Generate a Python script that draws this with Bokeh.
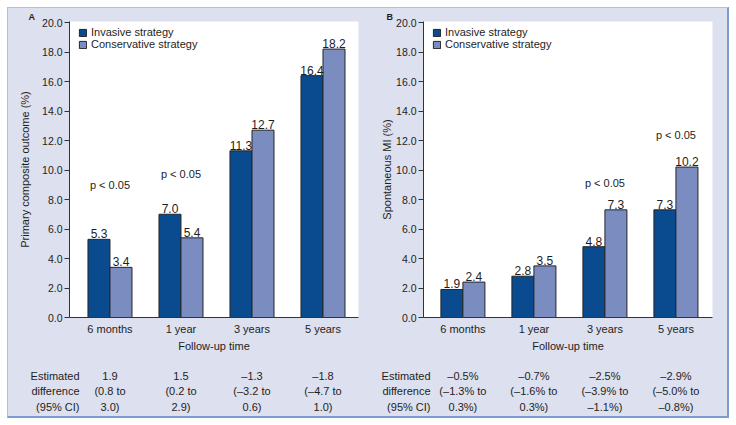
from bokeh.plotting import figure
from bokeh.layouts import row, column
from bokeh.models import (Range1d, FixedTicker, Label, LabelSet, Legend, LegendItem,
                          ColumnDataSource, PrintfTickFormatter)
from bokeh.transform import dodge
from bokeh.core.properties import value
from bokeh.embed import file_html
from bokeh.resources import INLINE

# ---------------- data ----------------
categories = ["6 months", "1 year", "3 years", "5 years"]
y_ticks = [0, 2, 4, 6, 8, 10, 12, 14, 16, 18, 20]

a_invasive = [5.3, 7.0, 11.3, 16.4]
a_conservative = [3.4, 5.4, 12.7, 18.2]
b_invasive = [1.9, 2.8, 4.8, 7.3]
b_conservative = [2.4, 3.5, 7.3, 10.2]

a_diff = ["1.9\n(0.8 to\n3.0)", "1.5\n(0.2 to\n2.9)",
          "\u20131.3\n(\u20133.2 to\n0.6)", "\u20131.8\n(\u20134.7 to\n1.0)"]
b_diff = ["\u20130.5%\n(\u20131.3% to\n0.3%)", "\u20130.7%\n(\u20131.6% to\n0.3%)",
          "\u20132.5%\n(\u20133.9% to\n\u20131.1%)", "\u20132.9%\n(\u20135.0% to\n\u20130.8%)"]
diff_header = "Estimated\ndifference\n(95% CI)"

a_p_labels = ["p < 0.05", "p < 0.05"]
b_p_labels = ["p < 0.05", "p < 0.05"]

# ---------------- style ----------------
FONT = "Liberation Sans"
FS = "11px"
BG = "#dde0ee"
INV = "#0a4a8e"
CON = "#7b8cc1"
TXT = "#1e1e1e"
AX = "#333333"
CH_H = 350      # chart figure height
TB_H = 58       # table figure height
TOP, FRAME_H = 13, 296


def make_panel(letter, ylabel, inv, con, p_cats, p_ys, p_texts, diffs,
               width, left, right, xr, header_gap, ylab_standoff):
    src = ColumnDataSource(dict(
        x=list(range(len(categories))), inv=inv, con=con,
        inv_lbl=[f"{v:.1f}" for v in inv], con_lbl=[f"{v:.1f}" for v in con]))
    p = figure(width=width, height=CH_H, x_range=Range1d(*xr), y_range=Range1d(0, 20.07),
               output_backend="svg", toolbar_location=None,
               min_border_left=left, min_border_right=right,
               min_border_top=TOP, min_border_bottom=CH_H - TOP - FRAME_H,
               background_fill_color="white", border_fill_color=BG,
               outline_line_color=None)
    p.grid.visible = False

    # panel letter as a left-aligned title shifted into the margin
    p.title.text = letter
    p.title.align = "left"
    p.title.vertical_align = "bottom"
    p.title.offset = 20 - left
    p.title.standoff = 0
    p.title.text_font = FONT
    p.title.text_font_size = "9px"
    p.title.text_font_style = "bold"
    p.title.text_color = TXT

    r1 = p.vbar(x=dodge("x", -0.155), top="inv", width=0.31, source=src,
                fill_color=INV, line_color="#262626", line_width=1)
    r2 = p.vbar(x=dodge("x", 0.155), top="con", width=0.31, source=src,
                fill_color=CON, line_color="#262626", line_width=1)

    for col, ycol, off in (("inv_lbl", "inv", -0.155), ("con_lbl", "con", 0.155)):
        p.add_layout(LabelSet(x=dodge("x", off), y=ycol, text=col, source=src,
                              text_align="center", text_baseline="bottom", y_offset=1,
                              text_font=value(FONT), text_font_size="12px",
                              text_color=TXT))

    # axes
    p.yaxis.ticker = FixedTicker(ticks=y_ticks)
    p.yaxis.formatter = PrintfTickFormatter(format="%.1f")
    p.yaxis.minor_tick_line_color = None
    p.yaxis.major_tick_in = 0
    p.yaxis.major_tick_out = 5
    p.yaxis.axis_label = ylabel
    p.yaxis.axis_label_standoff = ylab_standoff
    p.yaxis.major_label_standoff = 2

    p.xaxis.ticker = FixedTicker(ticks=list(range(len(categories))))
    p.xaxis.major_label_overrides = {i: c for i, c in enumerate(categories)}
    p.xaxis.minor_tick_line_color = None
    p.xaxis.major_tick_in = 0
    p.xaxis.major_tick_out = 0
    p.xaxis.major_label_standoff = 5
    p.xaxis.axis_label = "Follow-up time"
    p.xaxis.axis_label_standoff = 2

    for ax in (p.xaxis, p.yaxis):
        ax.axis_line_color = AX
        ax.major_label_text_font = FONT
        ax.major_label_text_color = TXT
        ax.axis_label_text_font = FONT
        ax.axis_label_text_font_style = "normal"
        ax.axis_label_text_font_size = FS
        ax.axis_label_text_color = TXT
    p.yaxis.major_tick_line_color = AX
    p.xaxis.major_tick_line_color = None
    p.yaxis.major_label_text_font_size = "10.5px"
    p.xaxis.major_label_text_font_size = FS

    legend = Legend(items=[LegendItem(label="Invasive strategy", renderers=[r1]),
                           LegendItem(label="Conservative strategy", renderers=[r2])],
                    location=(9, 267))
    legend.background_fill_alpha = 0
    legend.border_line_color = None
    legend.label_text_font = FONT
    legend.label_text_font_size = FS
    legend.label_text_color = TXT
    legend.glyph_width = 9
    legend.glyph_height = 9
    legend.label_standoff = 4
    legend.label_height = 11
    legend.spacing = 0
    legend.padding = 0
    legend.margin = 0
    p.add_layout(legend)

    # p-value annotations
    for c, yv, t in zip(p_cats, p_ys, p_texts):
        p.add_layout(Label(x=c, y=yv, text=t, text_align="center", text_baseline="middle",
                           text_font=FONT, text_font_size=FS, text_color=TXT))

    # ---- estimated-difference table: a strip figure with the same x mapping ----
    px = (width - left - right) / (xr[1] - xr[0])
    t_range = Range1d(xr[0] - left / px, xr[1] + right / px)
    t = figure(width=width, height=TB_H, x_range=t_range, y_range=Range1d(0, TB_H),
               output_backend="svg", toolbar_location=None,
               x_axis_location=None, y_axis_location=None,
               min_border_left=0, min_border_right=0, min_border_top=0, min_border_bottom=0,
               background_fill_color=BG, border_fill_color=BG, outline_line_color=None)
    t.grid.visible = False
    line_y = [41, 25.5, 10]
    cols = [d.split("\n") for d in diffs]
    head = diff_header.split("\n")
    for k, yy in enumerate(line_y):
        t.text(x=list(range(len(categories))), y=[yy] * len(categories),
               text=[c[k] for c in cols], text_align="center", text_baseline="middle",
               text_font=value(FONT), text_font_size=FS, text_color=TXT)
        t.text(x=[xr[0] + header_gap / px], y=[yy], text=[head[k]],
               text_align="right", text_baseline="middle",
               text_font=value(FONT), text_font_size=FS, text_color=TXT)
    # wrapping the strip in its own row keeps its frame independent of the chart's
    return column(p, row(t, spacing=0), spacing=0)


pA = make_panel("A", "Primary composite outcome (%)", a_invasive, a_conservative,
                [0, 1], [9.0, 9.75], a_p_labels, a_diff,
                width=358, left=61, right=8, xr=(-0.57, 3.5), header_gap=10,
                ylab_standoff=8)
pB = make_panel("B", "Spontaneous MI (%)", b_invasive, b_conservative,
                [2, 3], [9.1, 12.4], b_p_labels, b_diff,
                width=361, left=57, right=15, xr=(-0.555, 3.515), header_gap=7,
                ylab_standoff=0)

layout = row(pA, pB, spacing=0, margin=(7, 0, 0, 7), styles={
    "border-top": "1px solid #b3bfd9",
    "border-left": "1px solid #b3bfd9",
    "border-right": "2px solid #7c9bd0",
    "border-bottom": "2px solid #7c9bd0",
    "background-color": BG,
})

open("out.html", "w").write(file_html(layout, INLINE))
